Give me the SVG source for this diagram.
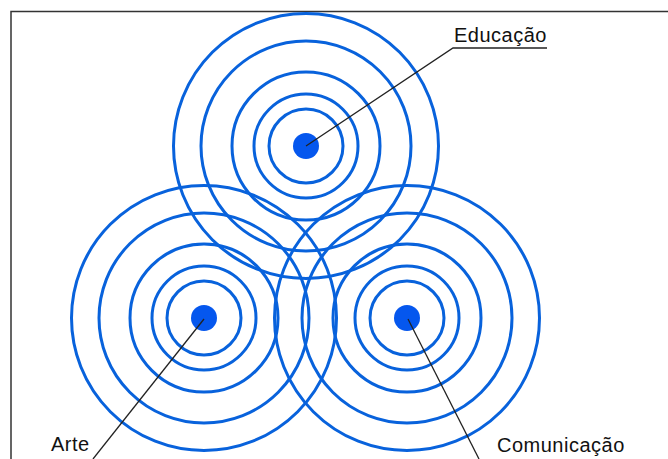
<svg xmlns="http://www.w3.org/2000/svg" width="668" height="459" viewBox="0 0 668 459">
<defs>
<style>
.ring{fill:none;stroke:#0862dc;stroke-width:3}
.dot{fill:#0557ee}
.lead{fill:none;stroke:#222;stroke-width:1.3}
.frame{fill:none;stroke:#333;stroke-width:1.5}
.lbl{font-family:"Liberation Sans",Arial,sans-serif;font-size:20px;fill:#111;letter-spacing:0.5px}
</style>
</defs>
<rect width="668" height="459" fill="#fff"/>
<path class="frame" d="M11,459 V11.5 H668"/>
<g id="node-educacao">
<circle class="ring" cx="306" cy="146" r="132.5"/>
<circle class="ring" cx="306" cy="146" r="105"/>
<circle class="ring" cx="306" cy="146" r="74"/>
<circle class="ring" cx="306" cy="146" r="52"/>
<circle class="ring" cx="306" cy="146" r="37"/>
<circle class="dot" cx="306" cy="146" r="13"/>
</g>
<g id="node-arte">
<circle class="ring" cx="204" cy="318" r="132.5"/>
<circle class="ring" cx="204" cy="318" r="105"/>
<circle class="ring" cx="204" cy="318" r="74"/>
<circle class="ring" cx="204" cy="318" r="52"/>
<circle class="ring" cx="204" cy="318" r="37"/>
<circle class="dot" cx="204" cy="318" r="13"/>
</g>
<g id="node-comunicacao">
<circle class="ring" cx="407" cy="318" r="132.5"/>
<circle class="ring" cx="407" cy="318" r="105"/>
<circle class="ring" cx="407" cy="318" r="74"/>
<circle class="ring" cx="407" cy="318" r="52"/>
<circle class="ring" cx="407" cy="318" r="37"/>
<circle class="dot" cx="407" cy="318" r="13"/>
</g>
<g id="connectors">
<path class="lead" d="M306,146 L453,48 H547"/>
<path class="lead" d="M204,319 L93,459"/>
<path class="lead" d="M408,319 L479,459"/>
</g>
<g id="labels">
<text class="lbl" x="454" y="42">Educação</text>
<text class="lbl" x="51" y="451">Arte</text>
<text class="lbl" x="497" y="452">Comunicação</text>
</g>
</svg>
